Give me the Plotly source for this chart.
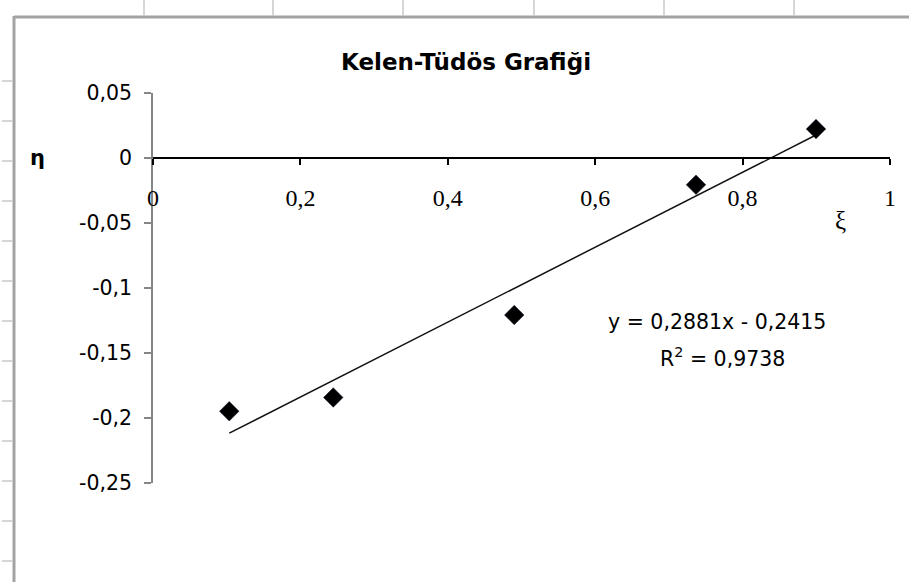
import plotly.graph_objects as go

# ---- data ----
xi_values = [0.1035, 0.2446, 0.4902, 0.7368, 0.8996]
eta_values = [-0.1948, -0.1842, -0.1208, -0.0206, 0.0223]
trend_slope = 0.2881
trend_intercept = -0.2415
r_squared_text = "0,9738"
equation_text = "y = 0,2881x - 0,2415"
chart_title = "Kelen-Tüdös Grafiği"
x_axis_title = "ξ"
y_axis_title = "η"
x_tick_values = [0, 0.2, 0.4, 0.6, 0.8, 1]
x_tick_labels = ["0", "0,2", "0,4", "0,6", "0,8", "1"]
y_tick_values = [0.05, 0, -0.05, -0.1, -0.15, -0.2, -0.25]
y_tick_labels = ["0,05", "0", "-0,05", "-0,1", "-0,15", "-0,2", "-0,25"]

# ---- layout geometry (pixels) ----
FIG_W, FIG_H = 909, 582
L, R, T, Bm = 153, 19, 93, 99
PW = FIG_W - L - R
PH = FIG_H - T - Bm
Y_MIN, Y_MAX = -0.25, 0.05


def px(xp):
    return (xp - L) / PW


def py(yp):
    return (FIG_H - Bm - yp) / PH


SANS = "DejaVu Sans"
SERIF = "Liberation Serif"

trend_x = [min(xi_values), max(xi_values)]
trend_y = [trend_slope * v + trend_intercept for v in trend_x]

fig = go.Figure()
fig.add_trace(go.Scatter(
    x=trend_x, y=trend_y, mode="lines",
    line=dict(color="#111111", width=1.5), hoverinfo="skip", showlegend=False,
))
fig.add_trace(go.Scatter(
    x=xi_values, y=eta_values, mode="markers",
    marker=dict(symbol="diamond", size=15, color="#000000",
                line=dict(color="#0a0a2a", width=0.5)),
    showlegend=False,
))

shapes = []
# spreadsheet frame remnants
gray = "#a3a3a3"
shapes.append(dict(type="line", xref="paper", yref="paper",
                   x0=px(14), x1=px(FIG_W + 5), y0=py(17), y1=py(17),
                   line=dict(color=gray, width=3)))
shapes.append(dict(type="line", xref="paper", yref="paper",
                   x0=px(14), x1=px(14), y0=py(16), y1=py(FIG_H + 5),
                   line=dict(color=gray, width=3)))
for xt in [144, 273, 403, 534, 664, 794]:
    shapes.append(dict(type="line", xref="paper", yref="paper",
                       x0=px(xt), x1=px(xt), y0=py(0), y1=py(16),
                       line=dict(color="#c8c8c8", width=1.5)))
for yt in range(81, FIG_H, 40):
    shapes.append(dict(type="line", xref="paper", yref="paper",
                       x0=px(2), x1=px(13), y0=py(yt), y1=py(yt),
                       line=dict(color="#c8c8c8", width=1.5)))

annotations = [
    dict(text=f"<b>{chart_title}</b>", xref="paper", yref="paper",
         x=px(466), y=py(62), xanchor="center", yanchor="middle",
         showarrow=False, font=dict(family=SANS, size=23, color="#000000")),
    dict(text=f"<b>{y_axis_title}</b>", xref="paper", yref="paper",
         x=px(37), y=py(158), xanchor="center", yanchor="middle",
         showarrow=False, font=dict(family=SANS, size=21, color="#000000")),
    dict(text=x_axis_title, xref="paper", yref="paper",
         x=px(840), y=py(220), xanchor="center", yanchor="middle",
         showarrow=False, font=dict(family=SERIF, size=25, color="#000000")),
    dict(text=equation_text, xref="paper", yref="paper",
         x=px(717), y=py(322), xanchor="center", yanchor="middle",
         showarrow=False, font=dict(family=SANS, size=20.5, color="#000000")),
    dict(text=f"R<sup>2</sup> = {r_squared_text}", xref="paper", yref="paper",
         x=px(722), y=py(357), xanchor="center", yanchor="middle",
         showarrow=False, font=dict(family=SANS, size=20.5, color="#000000")),
]

fig.update_layout(
    width=FIG_W, height=FIG_H,
    margin=dict(l=L, r=R, t=T, b=Bm, pad=0),
    paper_bgcolor="white", plot_bgcolor="white",
    separators=", ",
    shapes=shapes, annotations=annotations,
    xaxis=dict(
        range=[0, 1], anchor="free",
        position=(0 - Y_MIN) / (Y_MAX - Y_MIN),
        showgrid=False, zeroline=False,
        showline=True, linecolor="#000000", linewidth=1.5,
        ticks="outside", ticklen=6, tickwidth=1.5, tickcolor="#000000",
        tickvals=x_tick_values, ticktext=x_tick_labels,
        tickfont=dict(family=SERIF, size=24, color="#000000"),
        ticklabelstandoff=12,
    ),
    yaxis=dict(
        range=[Y_MIN, Y_MAX],
        showgrid=False, zeroline=False,
        showline=True, linecolor="#868686", linewidth=1.5,
        ticks="outside", ticklen=7, tickwidth=1.5, tickcolor="#868686",
        tickvals=y_tick_values, ticktext=y_tick_labels,
        tickfont=dict(family=SANS, size=20.5, color="#000000"),
        ticklabelstandoff=8,
    ),
)

fig.write_html(
    "out.html",
    config={"displayModeBar": False},
    post_script="document.body.style.margin='0px';document.body.style.overflow='hidden';",
)
